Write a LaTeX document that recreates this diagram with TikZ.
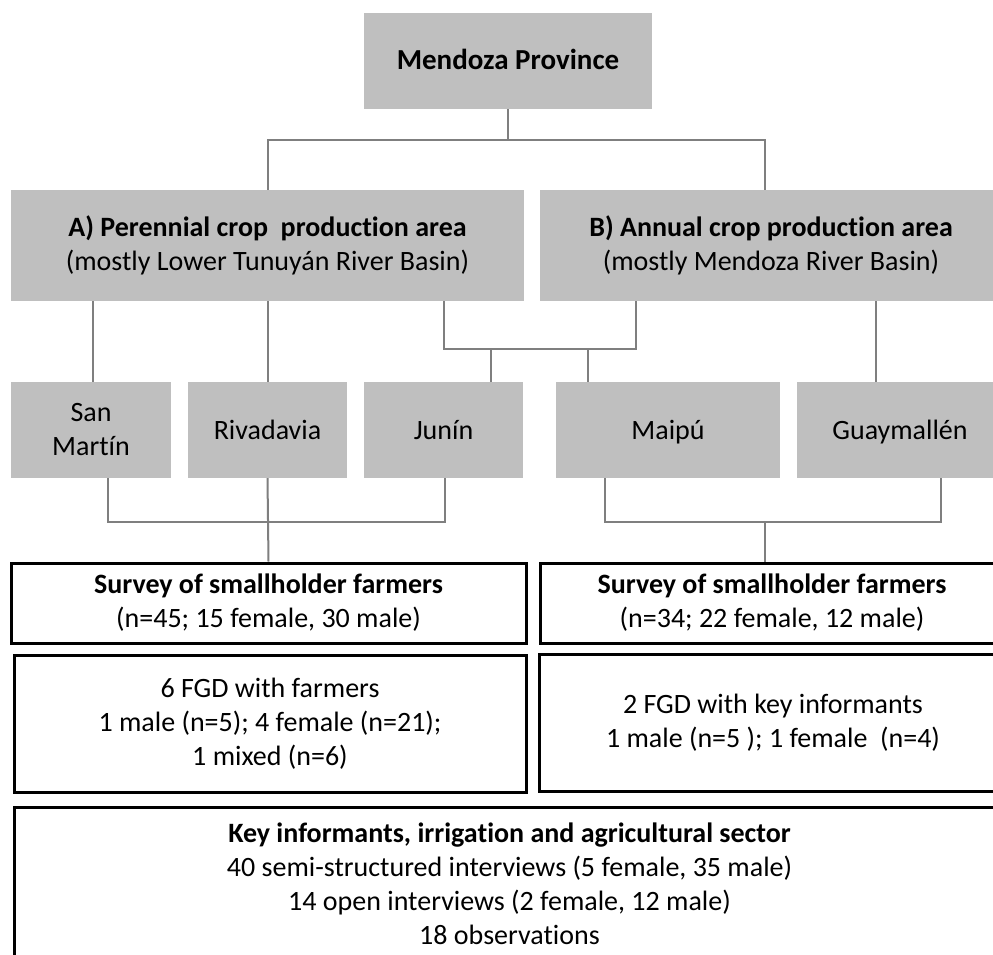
\documentclass[tikz,border=0pt]{standalone}
\usepackage{fontspec}
\setmainfont{Carlito}[Ligatures={NoCommon}]
\usetikzlibrary{calc}
\begin{document}
\begin{tikzpicture}[x=1pt,y=-1pt,
  every node/.style={inner sep=0pt,align=center,font=\fontsize{28}{34}\selectfont,
    execute at begin node={\rule{0pt}{26pt}}},
  greybox/.style={fill=boxgrey,draw=none},
  oneline/.style={text height=20pt,text depth=2pt},
  whitebox/.style={fill=white,draw=black,line width=3pt},
  conn/.style={draw=linegrey,line width=2pt}]
\definecolor{boxgrey}{HTML}{BFBFBF}
\definecolor{linegrey}{HTML}{7F7F7F}
\useasboundingbox (0,0) rectangle (993,955);
\clip (0,0) rectangle (993,955);
\fill[white] (0,0) rectangle (993,955);

% top level and the two production areas
\node[greybox,oneline,minimum width=288,minimum height=96,font=\fontsize{29}{34}\selectfont] (prov) at (508,61) {\textbf{Mendoza Province}};
\node[greybox,minimum width=513,minimum height=111] (A) at (267.5,245.5)
  {\textbf{A) Perennial crop\ \ production area}\\(mostly Lower Tunuyán River Basin)};
\node[greybox,minimum width=462,minimum height=111] (B) at (771,245.5)
  {\textbf{B) Annual crop production area}\\(mostly Mendoza River Basin)};

% departments
\node[greybox,minimum width=160,minimum height=96] (sm)  at (91,430)    {San\\Martín};
\node[greybox,oneline,minimum width=159,minimum height=96] (riv) at (267.5,430) {Rivadavia};
\node[greybox,oneline,minimum width=159,minimum height=96] (jun) at (443.5,430) {Junín};
\node[greybox,oneline,minimum width=224,minimum height=96] (mai) at (668,430)   {Maipú};
\node[greybox,oneline,minimum width=206,minimum height=96] (gua) at (900,430)   {Guaymallén};

% data collection
\node[whitebox,minimum width=515,minimum height=80] (survA) at (268.5,603)
  {\textbf{Survey of smallholder farmers}\\(n=45; 15 female, 30 male)};
\node[whitebox,minimum width=464,minimum height=80] (survB) at (772,603)
  {\textbf{Survey of smallholder farmers}\\(n=34; 22 female, 12 male)};
\node[whitebox,minimum width=512,minimum height=137] (fgdA) at (270,723.5)
  {6 FGD with farmers\\1 male (n=5); 4 female (n=21);\\1 mixed (n=6)};
\node[whitebox,minimum width=468,minimum height=137] (fgdB) at (773,722.5)
  {2 FGD with key informants\\1 male (n=5 ); 1 female\ \ (n=4)};
\node[whitebox,minimum width=991,minimum height=154] (key) at (509.5,884)
  {\textbf{Key informants, irrigation and agricultural sector}\\
   40 semi-structured interviews (5 female, 35 male)\\
   14 open interviews (2 female, 12 male)\\
   18 observations};

% connectors
\coordinate (j1) at (508,140);
\coordinate (ja) at (444,349);
\coordinate (jb) at (636,349);
\coordinate (jj) at (491,349);
\coordinate (jm) at (588,349);
\coordinate (hl) at (268,522);

\draw[conn] (prov.south) -- (j1);
\draw[conn] (A.north) |- (j1);
\draw[conn] ([xshift=-6pt]B.north) |- (j1);

\draw[conn] ([xshift=2pt]sm.north) -- ([xshift=2pt]sm.north |- A.south);
\draw[conn] (riv.north) -- (riv.north |- A.south);
\draw[conn] (ja |- A.south) -- (ja) -- (jb) -- (jb |- B.south);
\draw[conn] (jj) -- (jj |- jun.north);
\draw[conn] (jm) -- (jm |- mai.north);
\draw[conn] ([xshift=-24pt]gua.north) -- ([xshift=-24pt]gua.north |- B.south);

\draw[conn] ([xshift=17pt]sm.south) |- ([xshift=1pt]jun.south |- hl) -- ([xshift=1pt]jun.south);
\draw[conn] (riv.south) -- (survA.north);
\draw[conn] ([xshift=-63pt]mai.south) |- ([xshift=41pt]gua.south |- hl) -- ([xshift=41pt]gua.south);
\draw[conn] ([xshift=-7pt]survB.north) -- ([xshift=-7pt]survB.north |- hl);
\end{tikzpicture}
\end{document}
